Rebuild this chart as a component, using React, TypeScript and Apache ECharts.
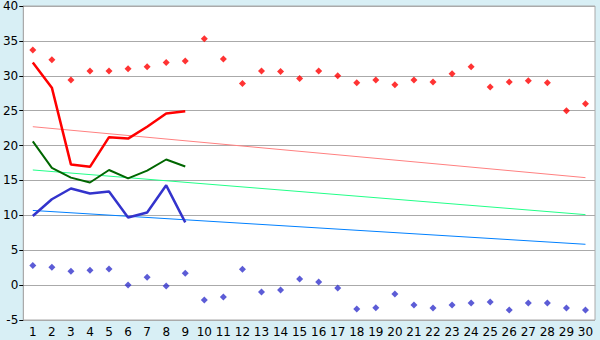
import React, { useEffect, useRef } from "react";
import * as echarts from "echarts";

const categories = Array.from({ length: 30 }, (_, i) => String(i + 1));

const redPoints = [33.7, 32.3, 29.4, 30.7, 30.7, 31.0, 31.3, 31.9, 32.1, 35.3, 32.4, 28.9, 30.7, 30.6, 29.6, 30.7, 30.0, 29.0, 29.4, 28.7, 29.4, 29.1, 30.3, 31.3, 28.4, 29.1, 29.3, 29.0, 25.0, 26.0];
const bluePoints = [2.8, 2.57, 2.0, 2.14, 2.3, 0.0, 1.14, -0.14, 1.71, -2.14, -1.71, 2.29, -1.0, -0.71, 0.86, 0.43, -0.43, -3.43, -3.24, -1.29, -2.86, -3.29, -2.86, -2.57, -2.43, -3.57, -2.57, -2.57, -3.29, -3.57];

const redLine = [31.9, 28.3, 17.3, 16.95, 21.2, 21.0, 22.7, 24.6, 24.9];
const greenLine = [20.6, 16.8, 15.4, 14.7, 16.5, 15.3, 16.4, 18.0, 17.0];
const blueLine = [9.9, 12.3, 13.85, 13.14, 13.4, 9.7, 10.4, 14.3, 9.0];

const redTrend = [[0, 22.7], [29, 15.4]];
const greenTrend = [[0, 16.5], [29, 10.1]];
const blueTrend = [[0, 10.7], [29, 5.85]];

export default function App() {
  const ref = useRef<HTMLDivElement>(null);
  useEffect(() => {
    const chart = echarts.init(ref.current!, null, { renderer: "svg" });
    const font = { fontFamily: "DejaVu Sans", fontSize: 12, color: "#000" };
    chart.setOption({
      animation: false,
      backgroundColor: "#d8eff5",
      grid: {
        left: 20, right: 5, top: 5, bottom: 20,
        show: true, backgroundColor: "#ffffff", borderColor: "#aaaaaa", borderWidth: 1,
      },
      xAxis: {
        type: "category",
        data: categories,
        boundaryGap: true,
        axisLine: { lineStyle: { color: "#aaaaaa" } },
        axisTick: { alignWithLabel: true, length: 5, lineStyle: { color: "#000" } },
        axisLabel: { ...font, margin: 6, interval: 0 },
      },
      yAxis: {
        type: "value",
        min: -5, max: 40, interval: 5,
        axisLine: { show: true, lineStyle: { color: "#aaaaaa" } },
        axisTick: { show: true, length: 4, lineStyle: { color: "#000" } },
        axisLabel: { ...font, margin: 5 },
        splitLine: { lineStyle: { color: "#aaaaaa", width: 1 } },
      },
      series: [
        { type: "line", data: redTrend, symbol: "none", lineStyle: { color: "#ff8080", width: 1 }, z: 2 },
        { type: "line", data: greenTrend, symbol: "none", lineStyle: { color: "#22ff88", width: 1 }, z: 2 },
        { type: "line", data: blueTrend, symbol: "none", lineStyle: { color: "#0080ff", width: 1 }, z: 2 },
        { type: "line", data: redLine, symbol: "none", lineStyle: { color: "#ff0000", width: 2.5 }, z: 3 },
        { type: "line", data: greenLine, symbol: "none", lineStyle: { color: "#006600", width: 2 }, z: 3 },
        { type: "line", data: blueLine, symbol: "none", lineStyle: { color: "#3333cc", width: 2.5 }, z: 3 },
        { type: "scatter", data: redPoints, symbol: "diamond", symbolSize: 7, itemStyle: { color: "#ff0000" }, z: 4 },
        { type: "scatter", data: bluePoints, symbol: "diamond", symbolSize: 7, itemStyle: { color: "#3333cc" }, z: 4 },
      ],
    });
    return () => chart.dispose();
  }, []);
  return <div ref={ref} style={{ position: "fixed", left: 0, top: 0, width: 600, height: 340 }} />;
}
